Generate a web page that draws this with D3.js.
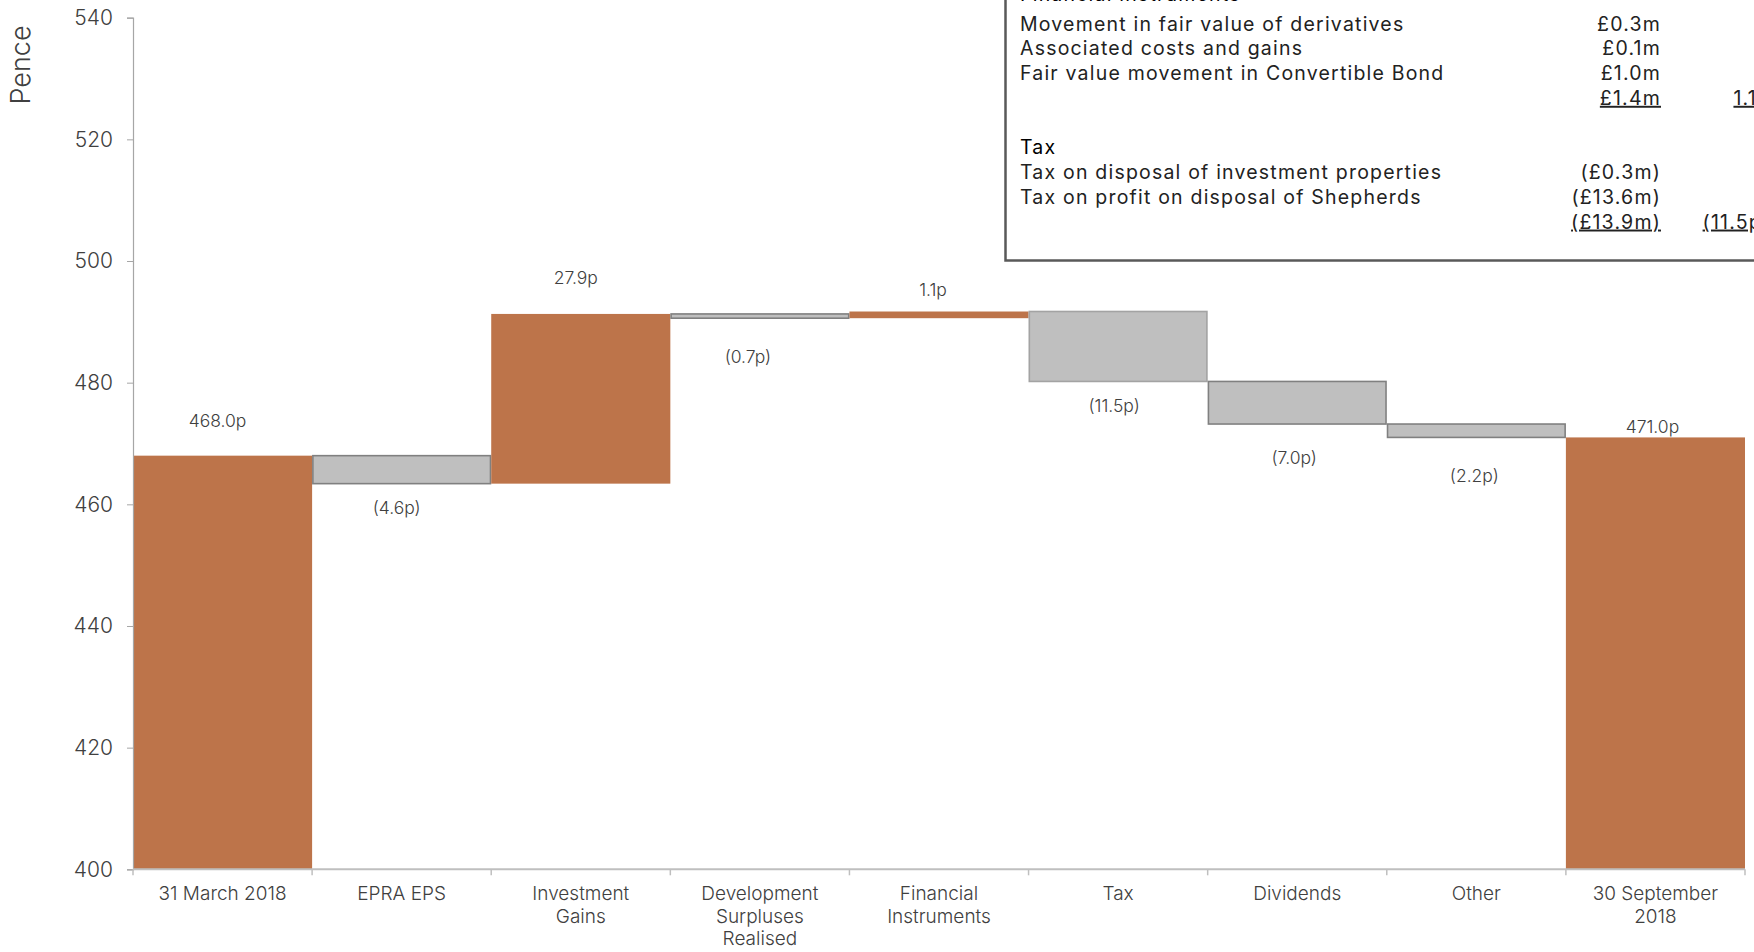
<!DOCTYPE html>
<html>
<head>
<meta charset="utf-8">
<script src="https://cdnjs.cloudflare.com/ajax/libs/d3/7.8.5/d3.min.js"></script>
<style>
  html, body { margin: 0; padding: 0; background: #ffffff; }
  svg { display: block; }
  text { font-family: Inter, "Open Sans", sans-serif; }
</style>
</head>
<body>
<svg id="chart" width="1754" height="952"></svg>
<script>
// NAV per share bridge, pence
const categories = [
  "31 March 2018", "EPRA EPS", "Investment Gains", "Development Surpluses Realised",
  "Financial Instruments", "Tax", "Dividends", "Other", "30 September 2018"
];
const categoryLines = [
  ["31 March 2018"], ["EPRA EPS"], ["Investment", "Gains"],
  ["Development", "Surpluses", "Realised"], ["Financial", "Instruments"],
  ["Tax"], ["Dividends"], ["Other"], ["30 September", "2018"]
];
const values = [468.0, -4.6, 27.9, -0.7, 1.1, -11.5, -7.0, -2.2, 471.0];
const kinds = ["total", "delta", "delta", "delta", "delta", "delta", "delta", "delta", "total"];
const yTicks = [400, 420, 440, 460, 480, 500, 520, 540];

// label nudges (baseline distance from bar end, horizontal shift)
const labelGap = [29, 30, 30, 45, 16, 31, 40, 45, 4];
const labelShift = [-5, -5, -5, -12, -6, -4, -3, -2, -3];

// notes box rows: [description, £m, pence, row type]
const noteRows = [
  ["Financial instruments", "", "", "head"],
  ["Movement in fair value of derivatives", "£0.3m", "", "item"],
  ["Associated costs and gains", "£0.1m", "", "item"],
  ["Fair value movement in Convertible Bond", "£1.0m", "", "item"],
  ["", "£1.4m", "1.1p", "total"],
  ["", "", "", "blank"],
  ["Tax", "", "", "head"],
  ["Tax on disposal of investment properties", "(£0.3m)", "", "item"],
  ["Tax on profit on disposal of Shepherds", "(£13.6m)", "", "item"],
  ["", "(£13.9m)", "(11.5p)", "total"]
];

const ORANGE = "#bd744a";
const GREY = "#bfbfbf";
const GREY_EDGE = "#808080";
const TEXT = "#404040";

const svg = d3.select("#chart");
const plot = { left: 133, right: 1745, top: 17.7, bottom: 869.3 };

const x = d3.scaleBand().domain(categories).range([plot.left, plot.right]).padding(0);
const y = d3.scaleLinear().domain([400, 540]).range([plot.bottom, plot.top]);

// running totals -> bar extents
let running = 0;
const bars = values.map((v, i) => {
  let lo, hi;
  if (kinds[i] === "total") {
    lo = 400; hi = v; running = v;
  } else {
    const prev = running;
    running = +(running + v).toFixed(1);
    lo = Math.min(prev, running); hi = Math.max(prev, running);
  }
  return { cat: categories[i], value: v, kind: kinds[i], lo, hi, i };
});

const isDrop = d => d.kind === "delta" && d.value < 0;
const fmt = d => d.kind === "total" ? d.value.toFixed(1) + "p"
  : (d.value < 0 ? "(" + Math.abs(d.value).toFixed(1) + "p)" : d.value.toFixed(1) + "p");

// bars
svg.append("g").selectAll("rect").data(bars).join("rect")
  .attr("x", d => x(d.cat) + (isDrop(d) ? 0.75 : 0))
  .attr("width", d => x.bandwidth() - (isDrop(d) ? 1.5 : 0))
  .attr("y", d => y(d.hi))
  .attr("height", d => y(d.lo) - y(d.hi))
  .attr("fill", d => isDrop(d) ? GREY : ORANGE)
  .attr("stroke", d => isDrop(d) ? (d.cat === "Tax" ? "#a3a3a3" : GREY_EDGE) : "none")
  .attr("stroke-width", 1.6);

// value labels
svg.append("g").selectAll("text").data(bars).join("text")
  .attr("x", d => x(d.cat) + x.bandwidth() / 2 + labelShift[d.i])
  .attr("y", d => isDrop(d) ? y(d.lo) + labelGap[d.i] : y(d.hi) - labelGap[d.i])
  .attr("text-anchor", "middle")
  .attr("font-size", 17.5)
  .attr("font-weight", 300)
  .attr("fill", TEXT)
  .text(fmt);

// y axis
const yAxis = svg.append("g")
  .attr("transform", `translate(${plot.left},0)`)
  .call(d3.axisLeft(y).tickValues(yTicks).tickSize(6).tickPadding(14).tickFormat(d3.format("d")));
yAxis.select(".domain").attr("stroke", "#a6a6a6").attr("stroke-width", 1.2);
yAxis.selectAll(".tick line").attr("stroke", "#a6a6a6");
yAxis.selectAll(".tick text")
  .attr("font-size", 21).attr("font-weight", 300).attr("fill", TEXT)
  .attr("font-family", "Inter, sans-serif");

// x axis baseline and boundary ticks
const xg = svg.append("g");
xg.append("line")
  .attr("x1", plot.left).attr("x2", plot.right)
  .attr("y1", y(400)).attr("y2", y(400))
  .attr("stroke", "#bfbfbf").attr("stroke-width", 2);
const edges = categories.map(c => x(c)).concat([x.range()[1]]);
xg.selectAll("line.edge").data(edges).join("line")
  .attr("class", "edge")
  .attr("x1", d => d).attr("x2", d => d)
  .attr("y1", y(400)).attr("y2", y(400) + 6)
  .attr("stroke", "#bfbfbf").attr("stroke-width", 1.5);

// category labels
const catG = xg.selectAll("text.cat").data(categories).join("text")
  .attr("class", "cat")
  .attr("text-anchor", "middle")
  .attr("font-size", 19)
  .attr("font-weight", 300)
  .attr("fill", TEXT);
catG.each(function(c, i) {
  d3.select(this).selectAll("tspan").data(categoryLines[i]).join("tspan")
    .attr("x", x(c) + x.bandwidth() / 2)
    .attr("y", (d, k) => y(400) + 31 + k * 22.4)
    .text(d => d);
});

// y axis title
svg.append("text")
  .attr("transform", "translate(30,65) rotate(-90)")
  .attr("text-anchor", "middle")
  .attr("font-size", 27)
  .attr("font-weight", 300)
  .attr("fill", TEXT)
  .text("Pence");

// notes box
const box = svg.append("g");
box.append("rect")
  .attr("x", 1005.5).attr("y", -20)
  .attr("width", 900).attr("height", 280.5)
  .attr("fill", "#ffffff")
  .attr("stroke", "#595959").attr("stroke-width", 2.5);

const rowY = i => 5.8 + i * 24.75;
const noteText = (g, xPos, yPos, anchor, txt, color, underline) =>
  g.append("text")
    .attr("x", xPos).attr("y", yPos)
    .attr("text-anchor", anchor)
    .attr("font-size", 19.5)
    .attr("font-weight", 400)
    .attr("letter-spacing", 1.2)
    .attr("fill", color)
    .style("text-decoration", underline ? "underline" : "none")
    .text(txt);

noteRows.forEach((r, i) => {
  const [desc, amt, pence, kind] = r;
  if (desc) noteText(box, 1020, rowY(i) - (i === 0 ? 4.5 : 0), "start", desc,
    kind === "head" ? "#000000" : "#222222", false);
  if (amt) noteText(box, 1661, rowY(i), "end", amt, "#222222", kind === "total");
  if (pence) noteText(box, 1770, rowY(i), "end", pence, "#222222", true);
});
</script>
</body>
</html>
